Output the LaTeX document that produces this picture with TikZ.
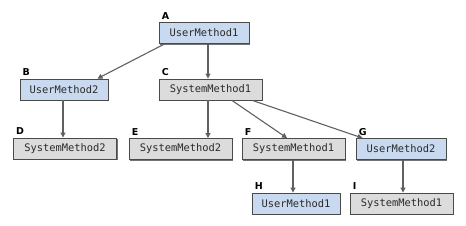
\documentclass[tikz,border=0pt]{standalone}
\usepackage{fontspec}
\setmonofont{DejaVu Sans Mono}
\setsansfont{DejaVu Sans}
\usetikzlibrary{arrows.meta,shadows}
\definecolor{ublue}{HTML}{C9DAF0}
\definecolor{sgray}{HTML}{DCDCDC}
\definecolor{bord}{HTML}{4A4A4A}
\definecolor{arrc}{HTML}{606060}
\definecolor{txt}{HTML}{2A2A2A}
\tikzset{
  box/.style={draw=bord, line width=0.9pt, minimum height=21pt, inner sep=0pt,
    font=\fontsize{10.4}{12}\ttfamily, text=txt,
    drop shadow={shadow xshift=1pt, shadow yshift=-1pt, fill=black!55, opacity=1}},
  ubox/.style={box, fill=ublue},
  sbox/.style={box, fill=sgray},
  lbl/.style={anchor=base west, inner sep=0pt, font=\fontsize{9.5}{10}\sffamily\bfseries},
  arr/.style={draw=arrc, line width=1.1pt, -{Triangle[length=5pt,width=5pt]}}
}
\begin{document}
\begin{tikzpicture}[x=1pt,y=-1pt]
\useasboundingbox (0,0) rectangle (466,225);
\node[ubox, minimum width=90pt]  (A) at (204,33)    {UserMethod1};
\node[ubox, minimum width=88pt]  (B) at (64,89.5)   {UserMethod2};
\node[sbox, minimum width=103pt] (C) at (210.5,89.5){SystemMethod1};
\node[sbox, minimum width=103pt] (D) at (65,148.5)  {SystemMethod2};
\node[sbox, minimum width=103pt] (E) at (180.5,149) {SystemMethod2};
\node[sbox, minimum width=103pt] (F) at (293.5,149) {SystemMethod1};
\node[ubox, minimum width=90pt]  (G) at (401,149)   {UserMethod2};
\node[ubox, minimum width=88pt]  (H) at (296,203.5) {UserMethod1};
\node[sbox, minimum width=103pt] (I) at (401.5,203.5){SystemMethod1};
\foreach \n in {A,B,C,D,E,F,G,H,I}
  \node[lbl] (L\n) at ([xshift=3pt,yshift=3pt]\n.north west) {\n};
\draw[arr] ([xshift=4pt]A.south) -- ([xshift=-2.5pt]C.north);
\draw[arr] ([xshift=6pt]A.south west) -- ([xshift=-11pt]B.north east);
\draw[arr] ([xshift=-1pt]B.south) -- ([xshift=-2pt]D.north);
\draw[arr] ([xshift=-2.5pt]C.south) -- ([xshift=27.5pt]E.north);
\draw[arr] ([xshift=21.5pt]C.south) -- ([xshift=-6.5pt]F.north);
\draw[arr] ([xshift=-10pt]C.south east) -- ([xshift=7pt]G.north west);
\draw[arr] ([xshift=-0.5pt]F.south) -- ([xshift=-3pt]H.north);
\draw[arr] ([xshift=2pt]G.south) -- ([xshift=1.5pt]I.north);
\end{tikzpicture}
\end{document}
